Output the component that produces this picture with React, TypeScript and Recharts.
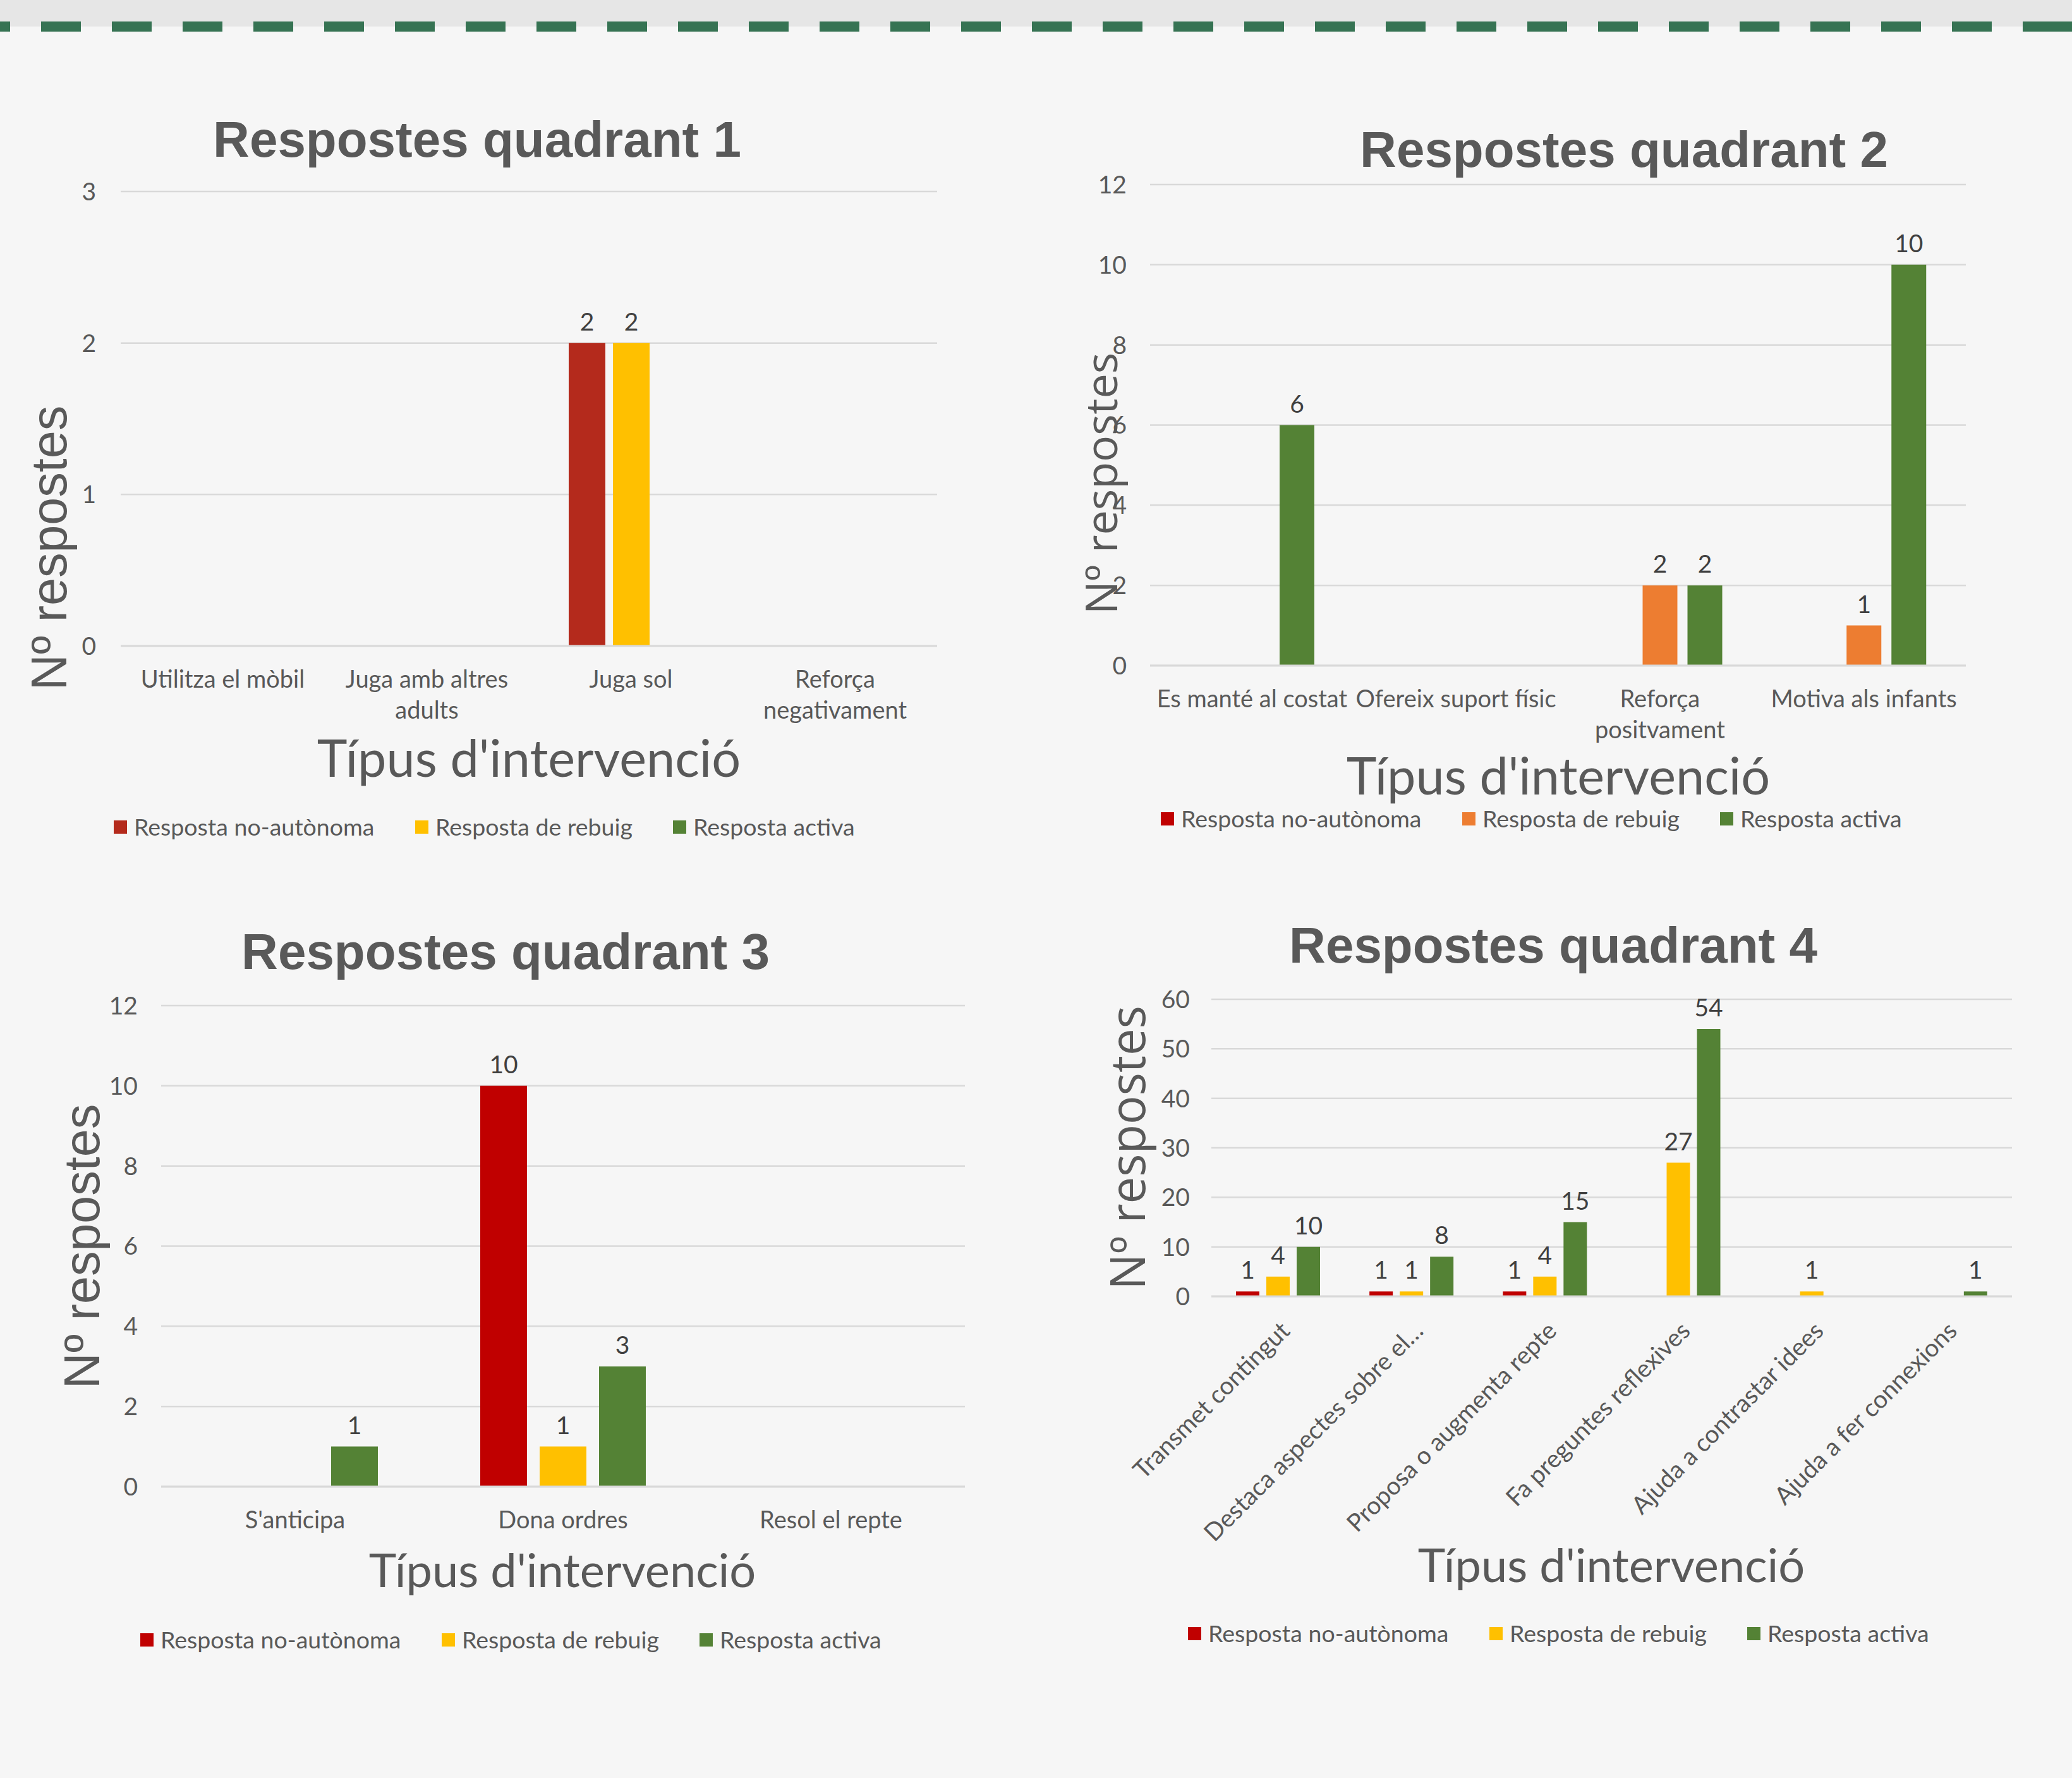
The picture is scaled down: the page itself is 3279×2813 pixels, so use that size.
import React from 'react';
import { BarChart, Bar, XAxis, YAxis, CartesianGrid, LabelList, Legend } from 'recharts';

// ---------- shared texts ----------
const seriesNames = ['Resposta no-autònoma', 'Resposta de rebuig', 'Resposta activa'];
const seriesKeys = ['noAutonoma', 'rebuig', 'activa'];
const yAxisTitle = 'Nº respostes';
const xAxisTitle = "Típus d'intervenció";

// ---------- Quadrant 1 ----------
const q1Title = 'Respostes quadrant 1';
const q1Categories = ['Utilitza el mòbil', 'Juga amb altres adults', 'Juga sol', 'Reforça negativament'];
const q1NoAutonoma: (number | null)[] = [null, null, 2, null];
const q1Rebuig: (number | null)[] = [null, null, 2, null];
const q1Activa: (number | null)[] = [null, null, null, null];
const q1Ticks = [0, 1, 2, 3];
const q1Colors = ['#b42a1c', '#ffc000', '#548235'];

// ---------- Quadrant 2 ----------
const q2Title = 'Respostes quadrant 2';
const q2Categories = ['Es manté al costat', 'Ofereix suport físic', 'Reforça positvament', 'Motiva als infants'];
const q2NoAutonoma: (number | null)[] = [null, null, null, null];
const q2Rebuig: (number | null)[] = [null, null, 2, 1];
const q2Activa: (number | null)[] = [6, null, 2, 10];
const q2Ticks = [0, 2, 4, 6, 8, 10, 12];
const q2Colors = ['#c00000', '#ed7d31', '#548235'];

// ---------- Quadrant 3 ----------
const q3Title = 'Respostes quadrant 3';
const q3Categories = ["S'anticipa", 'Dona ordres', 'Resol el repte'];
const q3NoAutonoma: (number | null)[] = [null, 10, null];
const q3Rebuig: (number | null)[] = [null, 1, null];
const q3Activa: (number | null)[] = [1, 3, null];
const q3Ticks = [0, 2, 4, 6, 8, 10, 12];
const q3Colors = ['#c00000', '#ffc000', '#548235'];

// ---------- Quadrant 4 ----------
const q4Title = 'Respostes quadrant 4';
const q4Categories = [
  'Transmet contingut',
  'Destaca aspectes sobre el…',
  'Proposa o augmenta repte',
  'Fa preguntes reflexives',
  'Ajuda a contrastar idees',
  'Ajuda a fer connexions',
];
const q4NoAutonoma: (number | null)[] = [1, 1, 1, null, null, null];
const q4Rebuig: (number | null)[] = [4, 1, 4, 27, 1, null];
const q4Activa: (number | null)[] = [10, 8, 15, 54, null, 1];
const q4Ticks = [0, 10, 20, 30, 40, 50, 60];
const q4Colors = ['#c00000', '#ffc000', '#548235'];

// ---------- styling ----------
const LATO = '"Lato", "Carlito", "Open Sans", sans-serif';
const ARIAL = '"Liberation Sans", Arial, sans-serif';
const OPEN = '"Open Sans", sans-serif';
const TEXT_GREY = '#595959';
const LABEL_GREY = '#404040';
const GRID = '#d9d9d9';
const BG = '#f6f6f6';
const Y_W = 100;
const X_H = 150;
const TICK_FS = 38;
const LEGEND_FS = 37.5;
const legendSlots = [477, 408];

let measureCtx: CanvasRenderingContext2D | null = null;
function measureText(text: string, font: string) {
  if (!measureCtx) measureCtx = document.createElement('canvas').getContext('2d');
  if (!measureCtx) return text.length * 18;
  measureCtx.font = font;
  return measureCtx.measureText(text).width;
}
function wrapWords(text: string, maxW: number, font: string) {
  const words = String(text).split(' ');
  const lines: string[] = [];
  let cur = '';
  for (const w of words) {
    const t = cur ? cur + ' ' + w : w;
    if (cur && measureText(t, font) > maxW) {
      lines.push(cur);
      cur = w;
    } else {
      cur = t;
    }
  }
  if (cur) lines.push(cur);
  return lines;
}

function buildRows(categories: string[], a: (number | null)[], b: (number | null)[], c: (number | null)[]) {
  return categories.map((name, i) => ({ name, noAutonoma: a[i], rebuig: b[i], activa: c[i] }));
}

type Cfg = {
  title: string;
  rows: any[];
  categories: string[];
  ticks: number[];
  colors: string[];
  box: { left: number; top: number; width: number; height: number };
  plot: { x0: number; x1: number; y0: number; y1: number };
  barSize: number;
  barGap: number;
  yTickMargin: number;
  rotated: boolean;
  titlePos: { x: number; y: number };
  yTitle: { x: number; y: number; size: number; font: string };
  xTitle: { x: number; y: number; size: number };
  legendPos: { x: number; y: number };
};

const configs: Cfg[] = [
  {
    title: q1Title,
    rows: buildRows(q1Categories, q1NoAutonoma, q1Rebuig, q1Activa),
    categories: q1Categories,
    ticks: q1Ticks,
    colors: q1Colors,
    box: { left: 0, top: 60, width: 1640, height: 1340 },
    plot: { x0: 191, x1: 1483, y0: 303, y1: 1022 },
    barSize: 58,
    barGap: 12,
    yTickMargin: 39,
    rotated: false,
    titlePos: { x: 755, y: 248 },
    yTitle: { x: 105, y: 867, size: 79, font: ARIAL },
    xTitle: { x: 837, y: 1229, size: 81 },
    legendPos: { x: 180, y: 1297 },
  },
  {
    title: q2Title,
    rows: buildRows(q2Categories, q2NoAutonoma, q2Rebuig, q2Activa),
    categories: q2Categories,
    ticks: q2Ticks,
    colors: q2Colors,
    box: { left: 1640, top: 60, width: 1639, height: 1340 },
    plot: { x0: 1820, x1: 3111, y0: 292, y1: 1053 },
    barSize: 55,
    barGap: 16,
    yTickMargin: 37,
    rotated: false,
    titlePos: { x: 2570, y: 264 },
    yTitle: { x: 1768, y: 765, size: 70, font: OPEN },
    xTitle: { x: 2466, y: 1257, size: 81 },
    legendPos: { x: 1837, y: 1284 },
  },
  {
    title: q3Title,
    rows: buildRows(q3Categories, q3NoAutonoma, q3Rebuig, q3Activa),
    categories: q3Categories,
    ticks: q3Ticks,
    colors: q3Colors,
    box: { left: 0, top: 1400, width: 1640, height: 1413 },
    plot: { x0: 255, x1: 1527, y0: 1591, y1: 2352 },
    barSize: 74,
    barGap: 20,
    yTickMargin: 37,
    rotated: false,
    titlePos: { x: 800, y: 1533 },
    yTitle: { x: 157, y: 1972, size: 79, font: ARIAL },
    xTitle: { x: 890, y: 2511, size: 74 },
    legendPos: { x: 222, y: 2583 },
  },
  {
    title: q4Title,
    rows: buildRows(q4Categories, q4NoAutonoma, q4Rebuig, q4Activa),
    categories: q4Categories,
    ticks: q4Ticks,
    colors: q4Colors,
    box: { left: 1640, top: 1400, width: 1639, height: 1413 },
    plot: { x0: 1917, x1: 3184, y0: 1581, y1: 2051 },
    barSize: 37,
    barGap: 11,
    yTickMargin: 34,
    rotated: true,
    titlePos: { x: 2458, y: 1523 },
    yTitle: { x: 1812, y: 1816, size: 76, font: OPEN },
    xTitle: { x: 2550, y: 2503, size: 74 },
    legendPos: { x: 1880, y: 2573 },
  },
];

const renderValueLabel = (props: any) => {
  const vb = props.viewBox && props.viewBox.x !== undefined ? props.viewBox : props;
  const value = props.value;
  if (value === null || value === undefined || value === '' || Number(value) === 0) return null;
  const x = Number(vb.x);
  const y = Number(vb.y);
  const w = Number(vb.width);
  const h = Number(vb.height);
  const top = Math.min(y, y + h);
  return (
    <text x={x + w / 2} y={top - 20} textAnchor="middle" fill={LABEL_GREY} fontSize={39} fontFamily={LATO}>
      {value}
    </text>
  );
};

function makeLegend(colors: string[]) {
  return () => (
    <div style={{ display: 'flex', alignItems: 'center', height: 22 }}>
      {seriesNames.map((n, i) => (
        <div key={n} style={{ display: 'flex', alignItems: 'center', width: legendSlots[i], flex: 'none' }}>
          <span style={{ display: 'inline-block', width: 21, height: 21, background: colors[i], marginRight: 11, flex: 'none' }} />
          <span style={{ fontFamily: LATO, fontSize: LEGEND_FS, color: TEXT_GREY, lineHeight: '20px', whiteSpace: 'nowrap' }}>{n}</span>
        </div>
      ))}
    </div>
  );
}

function Quadrant({ cfg }: { cfg: Cfg }) {
  const { box, plot } = cfg;
  const margin = {
    left: plot.x0 - box.left - Y_W,
    right: box.left + box.width - plot.x1,
    top: plot.y0 - box.top,
    bottom: box.top + box.height - plot.y1 - X_H,
  };
  const band = (plot.x1 - plot.x0) / cfg.categories.length;
  const tickFont = `${TICK_FS}px Lato`;

  const renderTick = (p: any) => {
    const x = Number(p.x);
    const y = Number(p.y);
    const value = String(p.payload.value);
    if (cfg.rotated) {
      const ax = x + 21;
      const ay = y + 57;
      return (
        <text x={ax} y={ay} transform={`rotate(-45 ${ax} ${ay})`} textAnchor="end" fill={TEXT_GREY} fontSize={TICK_FS + 1} fontFamily={LATO}>
          {value}
        </text>
      );
    }
    const lines = wrapWords(value, band, tickFont);
    return (
      <text x={x} y={y + 66} textAnchor="middle" fill={TEXT_GREY} fontSize={TICK_FS} fontFamily={LATO}>
        {lines.map((l, i) => (
          <tspan key={i} x={x} dy={i === 0 ? 0 : 49}>
            {l}
          </tspan>
        ))}
      </text>
    );
  };

  return (
    <div style={{ position: 'absolute', left: box.left, top: box.top, width: box.width, height: box.height }}>
      <BarChart width={box.width} height={box.height} data={cfg.rows} margin={margin} barGap={cfg.barGap}>
        <CartesianGrid vertical={false} stroke={GRID} strokeWidth={2.5} />
        <XAxis
          dataKey="name"
          type="category"
          height={X_H}
          interval={0}
          tickLine={false}
          tickSize={0}
          tickMargin={0}
          axisLine={{ stroke: GRID, strokeWidth: 3 }}
          tick={renderTick}
        />
        <YAxis
          type="number"
          width={Y_W}
          domain={[0, cfg.ticks[cfg.ticks.length - 1]]}
          ticks={cfg.ticks}
          interval={0}
          tickLine={false}
          tickSize={0}
          tickMargin={cfg.yTickMargin}
          axisLine={false}
          tick={{ fill: TEXT_GREY, fontSize: 39, fontFamily: LATO }}
        />
        <Legend
          layout="horizontal"
          verticalAlign="middle"
          align="center"
          wrapperStyle={{ left: cfg.legendPos.x - box.left, top: cfg.legendPos.y - box.top, width: 'auto', height: 'auto' }}
          content={makeLegend(cfg.colors)}
        />
        {seriesKeys.map((k, i) => (
          <Bar key={k} dataKey={k} name={seriesNames[i]} fill={cfg.colors[i]} barSize={cfg.barSize} isAnimationActive={false}>
            <LabelList dataKey={k} content={renderValueLabel} />
          </Bar>
        ))}
      </BarChart>
    </div>
  );
}

export default function App() {
  return (
    <div style={{ position: 'absolute', left: 0, top: 0, width: 3279, height: 2813, background: BG, overflow: 'hidden' }}>
      <div style={{ position: 'absolute', left: 0, top: 0, width: 3279, height: 42, background: '#e6e6e6' }} />
      <div
        style={{
          position: 'absolute',
          left: 0,
          top: 34,
          width: 3279,
          height: 16,
          backgroundImage: 'repeating-linear-gradient(to right, #367353 0px, #367353 63px, transparent 63px, transparent 112px)',
          backgroundPosition: '-47px 0',
        }}
      />
      {configs.map((cfg) => (
        <Quadrant key={cfg.title} cfg={cfg} />
      ))}
      <svg width={3279} height={2813} style={{ position: 'absolute', left: 0, top: 0, pointerEvents: 'none' }}>
        {configs.map((cfg) => (
          <g key={cfg.title}>
            <text x={cfg.titlePos.x} y={cfg.titlePos.y} textAnchor="middle" fontFamily={ARIAL} fontWeight={700} fontSize={80} fill={TEXT_GREY}>
              {cfg.title}
            </text>
            <text
              transform={`translate(${cfg.yTitle.x} ${cfg.yTitle.y}) rotate(-90)`}
              textAnchor="middle"
              fontFamily={cfg.yTitle.font}
              fontSize={cfg.yTitle.size}
              fill={TEXT_GREY}
            >
              {yAxisTitle}
            </text>
            <text x={cfg.xTitle.x} y={cfg.xTitle.y} textAnchor="middle" fontFamily={LATO} fontSize={cfg.xTitle.size} fill={TEXT_GREY}>
              {xAxisTitle}
            </text>
          </g>
        ))}
      </svg>
    </div>
  );
}
